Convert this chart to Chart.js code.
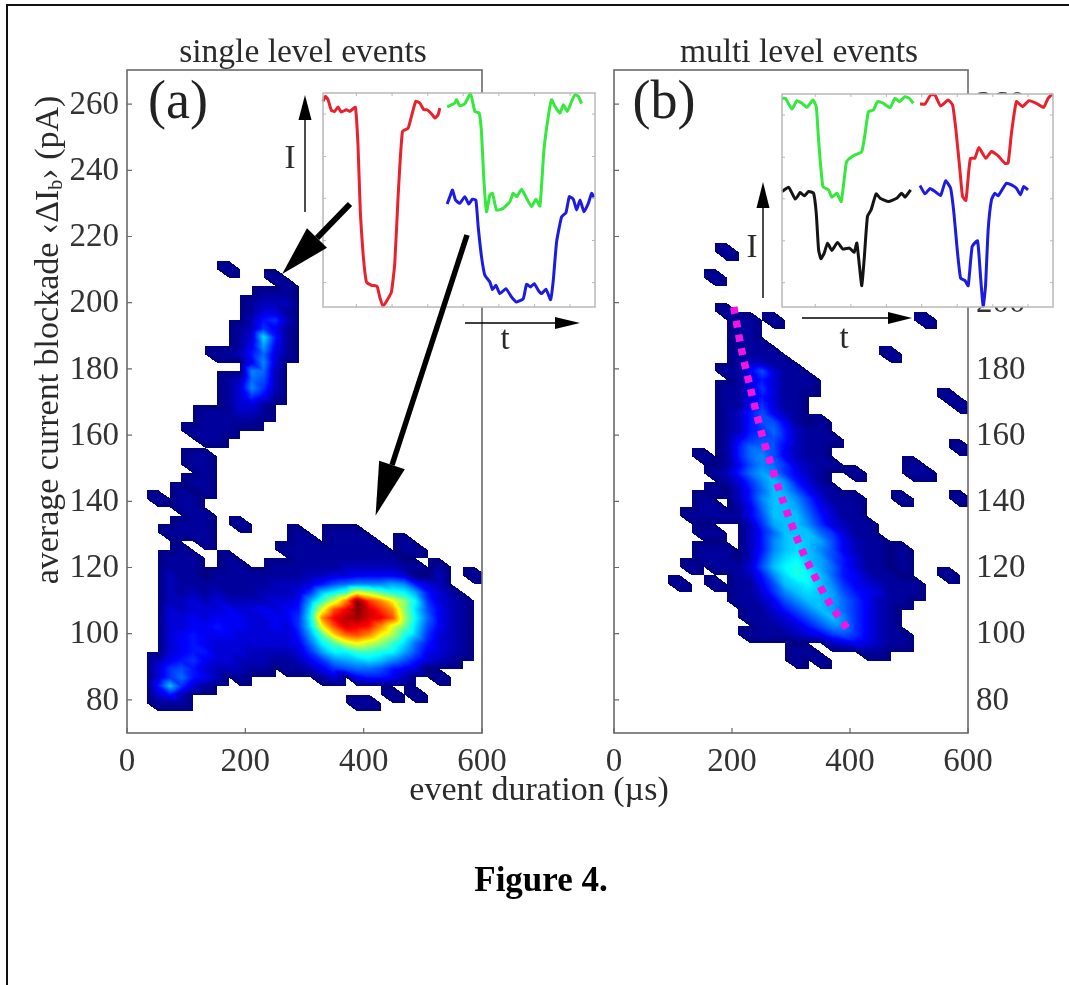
<!DOCTYPE html>
<html>
<head>
<meta charset="utf-8">
<title>Figure 4</title>
<script src="https://cdn.jsdelivr.net/npm/chart.js@4"></script>
<style>
  html, body { margin: 0; background: #fff; }
  #page { position: relative; width: 1069px; height: 985px; overflow: hidden; }
  #page canvas { position: absolute; left: 0; top: 0; }
  #marco { position: absolute; left: 6px; top: 4px; width: 1100px; height: 1100px; border: 2px solid #111; }
</style>
</head>
<body>
<div id="page">
  <div id="marco"></div>
  <canvas id="panelA" width="1069" height="985"></canvas>
  <canvas id="panelB" width="1069" height="985"></canvas>
  <canvas id="insetA" width="1069" height="985"></canvas>
  <canvas id="insetB" width="1069" height="985"></canvas>
  <canvas id="notas" width="1069" height="985"></canvas>
</div>
<script>
// --- 1. DATA ---
const xTicks = [0, 200, 400, 600];
const yTicks = [80, 100, 120, 140, 160, 180, 200, 220, 240, 260];

// histogram bin edges (event duration in us, blockade in pA)
const durationBins = [33,53,73,92,112,132,152,172,191,211,231,251,271,290,310,330,350,370,389,409,429,449,469,488,508,528,548,568,587,607];
const blockadeBins = [76.5,79.1,81.6,84.2,86.8,89.4,91.9,94.5,97.1,99.6,102.2,104.8,107.3,109.9,112.5,115,117.6,120.2,122.8,125.3,127.9,130.5,133,135.6,138.2,140.8,143.3,145.9,148.5,151,153.6,156.2,158.7,161.3,163.9,166.5,169,171.6,174.2,176.7,179.3,181.9,184.4,187,189.6,192.2,194.7,197.3,199.9,202.4,205,207.6,210.1,212.7,215.3,217.9];

// counts per bin, one string per blockade row, first string is row 54, last is row 1.
// '.' is empty, then 1-9 and a-z is the level (z = 35 = maximum)
const countsA = [
  "", "",
  ".......1",
  "...........1",
  "............1",
  "..........111",
  ".........1222",
  ".........1331",
  ".........2562",
  "........12641",
  "........13c51",
  "........14a41",
  "......1125831",
  ".........493",
  ".........982",
  ".......12872",
  ".......13962",
  ".......13641",
  ".......1331",
  ".....111221",
  ".....11111",
  "....1111",
  ".....11",
  "",
  "....11",
  "....11",
  ".....1",
  "....11",
  "...1.1",
  ".1.11",
  "...11",
  "....11",
  "...111..1",
  "..1111.......1..111",
  ".....1.......11.1111..1",
  "...1........111111111.11",
  "..111..1.....111111111",
  "..111..11..1111112222211.1",
  "..211.11111111223344443..2..1",
  "..21111111122" + "23578999a9532",
  "..21212111222" + "36bdfljgeda53" + "1",
  "..22323222233" + "4afkqztqmid63" + "21",
  "..32333433434" + "5clsvzwtqic74" + "21",
  "..33434443344" + "6dqvxywvsjd84" + "21",
  "..33445443343" + "6cmswvuqlhc74" + "21",
  "..34544433333" + "5agnrsqmjeb63" + "21",
  "..34543333333" + "48dgkmkifc853" + "21",
  "..34553332222" + "36addffeda743" + "21",
  ".245643322211" + "2469abcb97532" + "1",
  ".3675322211.1" + "12467887543",
  ".368542.1......13.45542..1",
  ".5b631",
  ".352.................1.1",
  ".111..............11"
];

const countsB = [
  "........1",
  "",
  "",
  ".......1",
  "", "", "",
  "........1",
  ".........11.1............1",
  ".........11",
  ".........11",
  ".........111",
  ".........1111.........1",
  ".........12211",
  "........1147311",
  ".........1353111",
  "........11363111",
  "........1135311............1",
  "........1146311.............1",
  "........1257421",
  "........1257741.1",
  "........125685211",
  "........1467752111",
  "........158874211...........1",
  "......1.158974211",
  "........1479863211......1",
  ".......1258a96421..1....11",
  "........1369b9531",
  ".......1.258ba7421",
  "......1..259bb963111...1....1",
  "......11.148bba74211",
  ".....1111147bbb85311",
  "..........26abb963211",
  "......11..258bbb86311",
  "..........259bcba74211",
  "......111.259bcb974211.1",
  "......111.26acdba75311.1",
  ".....1.11137bdeca85311.1",
  ".........1259cedb854211....1",
  "....1..1.1147bcdb96432111",
  ".........11369bcba7543111",
  ".........112479bba864211",
  "..........113579ba86421",
  "..........1123579b96421",
  "...........112357996421",
  "..........11112346764211",
  ".................2343211",
  "..............11....11",
  "..............1.1",
  "", "", "", "", ""
];

// dashed guide over panel (b): duration, blockade
const guideDuration = [203, 216, 230, 252, 286, 320, 364, 395];
const guideBlockade = [198.7, 186, 175.1, 159.4, 140.4, 124.7, 109.6, 101.7];

// inset traces, read in arbitrary units (time, current), x 0-815, y 0-640
const redA = [[0,615],[7,630],[15,620],[25,588],[35,585],[45,598],[55,583],[70,590],[80,585],[97,597],[105,480],[112,280],[120,160],[130,75],[145,65],[162,62],[170,30],[180,2],[192,20],[205,45],[215,130],[225,330],[238,525],[255,535],[265,570],[278,615],[290,610],[302,590],[312,590],[325,578],[335,565],[345,575],[350,595]];
const greenA = [[372,598],[385,605],[395,610],[400,620],[410,602],[425,608],[442,638],[455,585],[468,580],[475,520],[482,380],[490,285],[500,335],[508,340],[520,290],[540,295],[560,315],[570,340],[580,330],[595,352],[610,325],[625,300],[638,322],[650,302],[662,470],[675,570],[685,620],[695,600],[710,580],[720,605],[732,585],[745,615],[755,635],[765,630],[775,608]];
const blueA = [[372,308],[382,335],[388,350],[397,320],[410,310],[425,330],[437,308],[447,322],[458,320],[465,240],[475,150],[485,95],[500,75],[508,52],[518,65],[530,40],[548,55],[565,30],[580,15],[600,25],[610,68],[622,60],[633,70],[645,50],[655,40],[668,53],[682,22],[690,80],[700,195],[715,270],[728,282],[738,330],[750,322],[760,290],[770,320],[782,285],[795,310],[805,340],[812,328]];
const greenB = [[0,627],[10,627],[30,595],[45,620],[60,612],[75,600],[93,622],[103,602],[110,502],[123,362],[140,352],[150,330],[165,342],[178,317],[193,432],[200,444],[220,457],[240,467],[250,522],[260,587],[275,592],[287,617],[305,612],[325,599],[340,627],[353,617],[370,632],[383,627],[395,612]];
const blackB = [[0,347],[20,360],[40,324],[55,344],[67,334],[80,347],[95,342],[103,282],[110,172],[117,145],[127,162],[137,192],[150,170],[167,194],[183,174],[203,177],[217,164],[225,192],[233,122],[240,64],[247,142],[257,272],[268,292],[283,340],[295,327],[320,317],[345,327],[360,342],[370,330],[387,352]];
const redB = [[415,610],[430,610],[447,637],[460,637],[477,604],[500,622],[513,607],[523,532],[535,412],[543,332],[553,320],[562,412],[567,447],[580,447],[592,479],[613,447],[630,467],[650,454],[670,432],[680,432],[690,522],[705,617],[723,602],[743,620],[765,612],[787,600],[800,627],[813,640]];
const blueB = [[415,365],[430,340],[445,356],[460,347],[477,335],[492,379],[507,357],[517,282],[527,172],[537,87],[550,80],[560,64],[572,182],[588,199],[597,92],[605,2],[612,62],[620,232],[630,322],[640,342],[650,334],[675,372],[690,367],[705,357],[717,337],[727,362],[740,352]];

const insetXTicks = [100, 207, 314, 420, 527, 634, 740];
const insetYTicks = [73, 199, 325, 450, 577];


// --- 2. PLUGINS ---

// jet colormap, v between 0 and 1
function jet(v) {
    const c = t => Math.max(0, Math.min(1, 1.5 - Math.abs(4 * v - t)));
    return [c(3) * 255, c(2) * 255, c(1) * 255];
}

// flat shading is not enough here: the original is an interpolated pcolor, each
// quad split in two triangles and painted when any of its corners has counts
const latticePlugin = {
    id: 'lattice',
    beforeDatasetsDraw(chart) {
        const rows = chart.options.plugins.lattice.rows;
        if (!rows) return;
        const sx = chart.scales.x, sy = chart.scales.y, area = chart.chartArea;
        const w = Math.ceil(area.width), h = Math.ceil(area.height);
        const off = document.createElement('canvas');
        off.width = w; off.height = h;
        const octx = off.getContext('2d');
        const img = octx.createImageData(w, h);

        const px = durationBins.map(d => sx.getPixelForValue(d) - area.left);
        const py = blockadeBins.map(b => sy.getPixelForValue(b) - area.top);
        const val = (k, r) => {
            const s = rows[54 - r];
            if (!s || k >= s.length || s[k] === '.') return 0;
            return parseInt(s[k], 36) / 35;
        };

        const tri = (a, b, c) => {
            if (!a.v && !b.v && !c.v) return;
            const x0 = Math.max(0, Math.floor(Math.min(a.x, b.x, c.x)));
            const x1 = Math.min(w - 1, Math.ceil(Math.max(a.x, b.x, c.x)));
            const y0 = Math.max(0, Math.floor(Math.min(a.y, b.y, c.y)));
            const y1 = Math.min(h - 1, Math.ceil(Math.max(a.y, b.y, c.y)));
            const den = (b.y - c.y) * (a.x - c.x) + (c.x - b.x) * (a.y - c.y);
            for (let y = y0; y <= y1; y++) {
                for (let x = x0; x <= x1; x++) {
                    const l1 = ((b.y - c.y) * (x + .5 - c.x) + (c.x - b.x) * (y + .5 - c.y)) / den;
                    const l2 = ((c.y - a.y) * (x + .5 - c.x) + (a.x - c.x) * (y + .5 - c.y)) / den;
                    const l3 = 1 - l1 - l2;
                    if (l1 < -0.001 || l2 < -0.001 || l3 < -0.001) continue;
                    const col = jet(l1 * a.v + l2 * b.v + l3 * c.v);
                    const i = (y * w + x) * 4;
                    img.data[i] = col[0]; img.data[i + 1] = col[1]; img.data[i + 2] = col[2]; img.data[i + 3] = 255;
                }
            }
        };

        for (let r = 0; r < blockadeBins.length - 1; r++) {
            for (let k = 0; k < durationBins.length - 1; k++) {
                const bl = { x: px[k],     y: py[r],     v: val(k, r) };
                const br = { x: px[k + 1], y: py[r],     v: val(k + 1, r) };
                const tl = { x: px[k],     y: py[r + 1], v: val(k, r + 1) };
                const tr = { x: px[k + 1], y: py[r + 1], v: val(k + 1, r + 1) };
                tri(tl, bl, br);
                tri(tl, tr, br);
            }
        }
        octx.putImageData(img, 0, 0);

        const ctx = chart.ctx;
        ctx.save();
        ctx.beginPath();
        ctx.rect(area.left, area.top, area.width, area.height);
        ctx.clip();
        ctx.filter = 'blur(0.6px)';   // scanned figure, edges are a bit soft
        ctx.drawImage(off, area.left, area.top);
        ctx.restore();
    }
};

// box around the plot with short inward ticks on the sides asked for
const framePlugin = {
    id: 'frame',
    beforeDraw(chart) {
        const o = chart.options.plugins.frame;
        if (!o || !o.fill) return;
        const a = chart.chartArea;
        chart.ctx.save();
        chart.ctx.fillStyle = o.fill;   // insets are opaque, they cover the panels
        chart.ctx.fillRect(a.left, a.top, a.width, a.height);
        chart.ctx.restore();
    },
    afterDatasetsDraw(chart) {
        const o = chart.options.plugins.frame;
        if (!o || !o.sides) return;
        const { left, right, top, bottom } = chart.chartArea;
        const ctx = chart.ctx;
        ctx.save();
        ctx.strokeStyle = o.color;
        ctx.lineWidth = o.width;
        ctx.strokeRect(left, top, right - left, bottom - top);
        ctx.lineWidth = o.tickWidth;
        ctx.beginPath();
        chart.scales.y.ticks.forEach(t => {
            const y = chart.scales.y.getPixelForValue(t.value);
            if (o.sides.includes('l')) { ctx.moveTo(left, y);  ctx.lineTo(left + o.tick, y); }
            if (o.sides.includes('r')) { ctx.moveTo(right, y); ctx.lineTo(right - o.tick, y); }
        });
        chart.scales.x.ticks.forEach(t => {
            const x = chart.scales.x.getPixelForValue(t.value);
            if (o.sides.includes('b')) { ctx.moveTo(x, bottom); ctx.lineTo(x, bottom - o.tick); }
            if (o.sides.includes('t')) { ctx.moveTo(x, top);    ctx.lineTo(x, top + o.tick); }
        });
        ctx.stroke();
        ctx.restore();
    }
};

// arrow heads for the line datasets of the annotation layer
const headPlugin = {
    id: 'heads',
    afterDatasetsDraw(chart) {
        const ctx = chart.ctx;
        chart.data.datasets.forEach(ds => {
            if (!ds.head) return;
            const a = ds.data[0], b = ds.data[1];
            const ang = Math.atan2(b.y - a.y, b.x - a.x);
            ctx.save();
            ctx.translate(chart.scales.x.getPixelForValue(b.x), chart.scales.y.getPixelForValue(b.y));
            ctx.rotate(ang);
            ctx.fillStyle = '#000';
            ctx.beginPath();
            ctx.moveTo(ds.head[0], 0);
            ctx.lineTo(0, -ds.head[1] / 2);
            ctx.lineTo(0, ds.head[1] / 2);
            ctx.closePath();
            ctx.fill();
            ctx.restore();
        });
    }
};

// free texts of the figure: titles, panel letters, axis names
const textPlugin = {
    id: 'texts',
    afterDatasetsDraw(chart) {
        const lista = chart.options.plugins.texts && chart.options.plugins.texts.items;
        if (!lista) return;
        const ctx = chart.ctx;
        lista.forEach(t => {
            ctx.save();
            ctx.translate(t.x, t.y);
            if (t.rot) ctx.rotate(t.rot);
            ctx.textBaseline = 'alphabetic';
            ctx.textAlign = 'left';
            ctx.fillStyle = t.color || '#2a2a2a';
            // parts let the subscript of the y axis name be real text too
            const parts = t.parts || [{ text: t.text, font: t.font }];
            let total = 0;
            parts.forEach(p => { ctx.font = p.font; total += ctx.measureText(p.text).width; });
            let cx = -total / 2;
            parts.forEach(p => {
                ctx.font = p.font;
                ctx.fillText(p.text, cx, p.dy || 0);
                cx += ctx.measureText(p.text).width;
            });
            ctx.restore();
        });
    }
};

Chart.register(latticePlugin, framePlugin, headPlugin, textPlugin);


// --- 3. PANELS ---
const serif = '"Liberation Serif", "Times New Roman", serif';
const tickFont = { family: serif, size: 33 };

function panelCanvas(id, rows, side, box, extraDatasets) {
    const yWidth = 80, xHeight = 45;
    const padding = {
        left:   side === 'left' ? box.left - yWidth : box.left,
        right:  side === 'left' ? 1069 - box.right : 1069 - box.right - yWidth,
        top:    box.top,
        bottom: 985 - box.bottom - xHeight
    };
    const celdas = [];
    rows.forEach((s, i) => {
        for (let k = 0; k < s.length; k++) {
            if (s[k] !== '.') celdas.push({ x: durationBins[k], y: blockadeBins[54 - i], v: parseInt(s[k], 36) });
        }
    });
    return new Chart(document.getElementById(id), {
        type: 'scatter',
        data: {
            datasets: [{ label: 'counts', data: celdas, pointRadius: 0, showLine: false }].concat(extraDatasets || [])
        },
        options: {
            responsive: false,
            animation: false,
            layout: { padding, autoPadding: false },
            events: [],
            plugins: {
                legend: { display: false },
                tooltip: { enabled: false },
                lattice: { rows },
                frame: { color: '#6a6a6a', width: 1.6, tick: 5, tickWidth: 1.2, sides: 'lb' }
            },
            scales: {
                x: {
                    type: 'linear', min: 0, max: 600,
                    grid: { display: false, drawTicks: false }, border: { display: false },
                    afterBuildTicks: s => { s.ticks = xTicks.map(value => ({ value })); },
                    afterFit: s => { s.height = xHeight; },
                    ticks: { font: tickFont, color: '#333', padding: 10, maxRotation: 0, autoSkip: false }
                },
                y: {
                    type: 'linear', position: side, min: 70, max: 270.3,
                    grid: { display: false, drawTicks: false }, border: { display: false },
                    afterBuildTicks: s => { s.ticks = yTicks.map(value => ({ value })); },
                    afterFit: s => { s.width = yWidth; },
                    ticks: { font: tickFont, color: '#333', padding: 8, labelOffset: 1, autoSkip: false }
                }
            }
        }
    });
}

const guidePoints = guideDuration.map((x, i) => ({ x, y: guideBlockade[i] }));

panelCanvas('panelA', countsA, 'left',  { left: 127, right: 482, top: 70, bottom: 733 });
panelCanvas('panelB', countsB, 'right', { left: 614, right: 968, top: 70, bottom: 733 }, [{
    label: 'guide', data: guidePoints, showLine: true, pointRadius: 0, tension: 0.3,
    borderColor: '#f414e0', borderWidth: 7.5, borderDash: [7, 7]
}]);


// --- 4. INSETS ---
function insetCanvas(id, box, traces) {
    new Chart(document.getElementById(id), {
        type: 'scatter',
        data: {
            datasets: traces.map(t => ({
                label: t.name,
                data: t.data.map(p => ({ x: p[0], y: p[1] })),
                showLine: true, pointRadius: 0, borderColor: t.color, borderWidth: 3, tension: 0.15, clip: false
            }))
        },
        options: {
            responsive: false,
            animation: false,
            events: [],
            layout: { padding: { left: box.left, right: 1069 - box.right, top: box.top, bottom: 985 - box.bottom }, autoPadding: false },
            plugins: {
                legend: { display: false },
                tooltip: { enabled: false },
                frame: { color: '#b8b8b8', width: 1.5, tick: 3, tickWidth: 1, sides: 'lrbt', fill: '#fff' }
            },
            scales: {
                x: {
                    type: 'linear', min: 0, max: 815,
                    grid: { display: false }, border: { display: false },
                    ticks: { display: false },
                    afterBuildTicks: s => { s.ticks = insetXTicks.map(value => ({ value })); },
                    afterFit: s => { s.height = 0; }
                },
                y: {
                    type: 'linear', min: 0, max: 640,
                    grid: { display: false }, border: { display: false },
                    ticks: { display: false },
                    afterBuildTicks: s => { s.ticks = insetYTicks.map(value => ({ value })); },
                    afterFit: s => { s.width = 0; }
                }
            }
        }
    });
}

insetCanvas('insetA', { left: 323, right: 595, top: 93, bottom: 307 }, [
    { name: 'red', data: redA, color: '#e8222c' },
    { name: 'green', data: greenA, color: '#35e83c' },
    { name: 'blue', data: blueA, color: '#1c1ce0' }
]);
insetCanvas('insetB', { left: 782, right: 1053, top: 94, bottom: 307 }, [
    { name: 'green', data: greenB, color: '#35e83c' },
    { name: 'black', data: blackB, color: '#141414' },
    { name: 'red', data: redB, color: '#e8222c' },
    { name: 'blue', data: blueB, color: '#1c1ce0' }
]);


// --- 5. ANNOTATION LAYER (page coordinates) ---
const flecha = (x0, y0, x1, y1, width, head) => ({
    label: 'arrow',
    data: [{ x: x0, y: y0 }, { x: x1, y: y1 }],
    showLine: true, pointRadius: 0, borderColor: '#000', borderWidth: width, head, clip: false
});

new Chart(document.getElementById('notas'), {
    type: 'scatter',
    data: {
        datasets: [
            flecha(350, 204, 317, 238, 6, [50, 28]),
            flecha(467, 235, 392, 465, 5.5, [53, 27]),
            flecha(305, 212, 305, 120, 1.4, [25, 13]),
            flecha(465, 323, 555, 323, 1.4, [25, 12]),
            flecha(763, 298, 763, 208, 1.4, [26, 13]),
            flecha(802, 318, 888, 318, 1.4, [24, 12])
        ]
    },
    options: {
        responsive: false,
        animation: false,
        events: [],
        layout: { padding: 0, autoPadding: false },
        plugins: {
            legend: { display: false },
            tooltip: { enabled: false },
            texts: {
                items: [
                    { text: 'single level events', x: 303, y: 62, font: `33.5px ${serif}` },
                    { text: 'multi level events', x: 799, y: 62, font: `33.5px ${serif}` },
                    { text: '(a)', x: 178, y: 118, font: `54px ${serif}`, color: '#222' },
                    { text: '(b)', x: 664, y: 118, font: `54px ${serif}`, color: '#222' },
                    { text: 'event duration (\u00b5s)', x: 539, y: 800, font: `34px ${serif}` },
                    { text: 'I', x: 290, y: 168, font: `33px ${serif}` },
                    { text: 't', x: 505, y: 349, font: `33px ${serif}` },
                    { text: 'I', x: 752, y: 257, font: `33px ${serif}` },
                    { text: 't', x: 844, y: 348, font: `33px ${serif}` },
                    { text: 'Figure 4.', x: 541, y: 891, font: `bold 35px ${serif}`, color: '#000' },
                    {
                        x: 58, y: 340, rot: -Math.PI / 2,
                        parts: [
                            { text: 'average current blockade \u2039\u0394I', font: `34px ${serif}` },
                            { text: 'b', font: `20px ${serif}`, dy: 4 },
                            { text: '\u203a (pA)', font: `34px ${serif}` }
                        ]
                    }
                ]
            }
        },
        scales: {
            x: { type: 'linear', min: 0, max: 1069, display: false },
            y: { type: 'linear', min: 0, max: 985, reverse: true, display: false }
        }
    }
});
</script>
</body>
</html>
